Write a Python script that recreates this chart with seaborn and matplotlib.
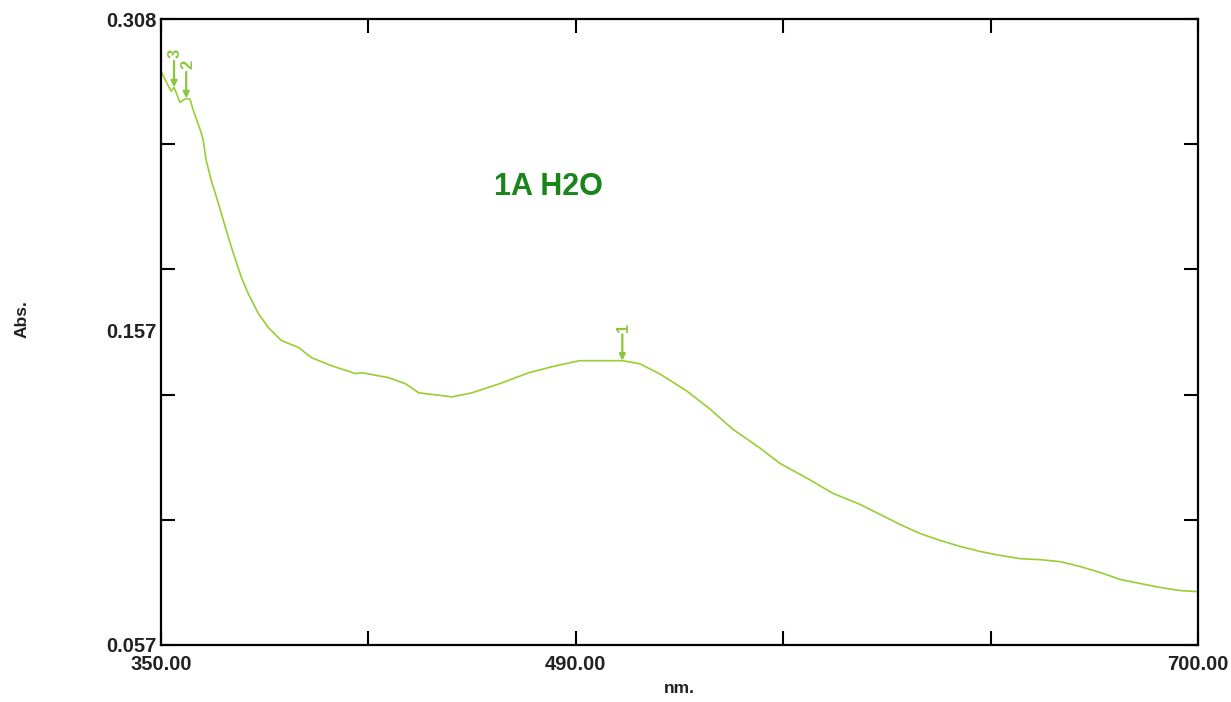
import matplotlib
matplotlib.use("Agg")
import matplotlib.pyplot as plt
import seaborn as sns
import pandas as pd

# ---- data ----
wavelength = [350.0, 353.4, 354.4, 356.4, 358.5, 359.8, 360.8, 363.2, 364.2, 365.2,
              366.9, 369.3, 371.7, 374.4, 377.1, 379.4, 382.8, 386.2, 390.6, 396.4,
              400.8, 407.5, 415.7, 417.7, 426.8, 432.6, 437.0, 442.7, 448.2, 454.9,
              464.1, 474.2, 482.0, 491.2, 497.9, 505.7, 511.5, 518.2, 527.4, 535.2,
              542.9, 552.1, 558.8, 568.0, 576.8, 585.9, 599.5, 606.2, 613.0, 619.8,
              626.5, 633.3, 640.1, 646.9, 653.6, 660.4, 667.2, 673.9, 680.7, 687.5,
              694.2, 700.0]
absorbance = [0.2871, 0.2790, 0.2806, 0.2746, 0.2762, 0.2758, 0.2717, 0.2637, 0.2597, 0.2516,
              0.2435, 0.2343, 0.2246, 0.2141, 0.2045, 0.1980, 0.1900, 0.1843, 0.1791, 0.1763,
              0.1722, 0.1690, 0.1658, 0.1662, 0.1642, 0.1617, 0.1581, 0.1573, 0.1565, 0.1581,
              0.1617, 0.1662, 0.1686, 0.1710, 0.1710, 0.1710, 0.1698, 0.1658, 0.1589, 0.1517,
              0.1436, 0.1360, 0.1299, 0.1239, 0.1178, 0.1134, 0.1053, 0.1017, 0.0989, 0.0965,
              0.0945, 0.0929, 0.0916, 0.0912, 0.0904, 0.0884, 0.0860, 0.0832, 0.0816, 0.0800,
              0.0788, 0.0784]

peak_labels = ["1", "2", "3"]
peak_wavelength = [505.7, 358.5, 354.4]
peak_absorbance = [0.1710, 0.2762, 0.2806]

x_min, x_max = 350.0, 700.0
y_min, y_max = 0.057, 0.308
x_ticks = [350, 420, 490, 560, 630, 700]
x_tick_labels = ["350.00", "", "490.00", "", "", "700.00"]
y_ticks = [0.057, 0.1072, 0.1574, 0.2076, 0.2578, 0.308]
y_tick_labels = ["0.057", "", "", "", "", "0.308"]
mid_y_label = "0.157"
title_text = "1A H2O"
x_label = "nm."
y_label = "Abs."

line_color = "#9ACD32"
arrow_color = "#8CC63F"
title_color = "#1A851A"
text_color = "#222222"

# ---- plotting ----
sns.set_style("ticks")
plt.rcParams["font.family"] = ["Liberation Sans", "DejaVu Sans"]

fig = plt.figure(figsize=(12.31, 7.02), dpi=100)
ax = fig.add_axes([0.1308, 0.0812, 0.8424, 0.8917])

df = pd.DataFrame({"nm": wavelength, "abs": absorbance})
sns.lineplot(data=df, x="nm", y="abs", ax=ax, color=line_color, linewidth=1.2,
             estimator=None, sort=False)

ax.set_xlim(x_min, x_max)
ax.set_ylim(y_min, y_max)
ax.set_xticks(x_ticks)
ax.set_xticklabels(x_tick_labels, fontsize=14.5, fontweight="bold", color=text_color)
ax.set_yticks(y_ticks)
ax.set_yticklabels(y_tick_labels, fontsize=14.5, fontweight="bold", color=text_color)
ax.tick_params(axis="both", direction="in", length=10, width=1.5, color="black",
               top=True, right=True)
ax.tick_params(axis="x", pad=7)
ax.tick_params(axis="y", pad=3)
for s in ax.spines.values():
    s.set_visible(True)
    s.set_color("black")
    s.set_linewidth(1.6)

ax.text(-0.004, 0.5, mid_y_label, transform=ax.transAxes, ha="right", va="center",
        fontsize=14.5, fontweight="bold", color=text_color)

ax.set_xlabel("")
ax.set_ylabel("")
fig.text(0.552, 0.019, x_label, ha="center", va="center", fontsize=12.5,
         fontweight="bold", color=text_color)
fig.text(0.018, 0.545, y_label, ha="center", va="center", rotation=90, fontsize=12.5,
         fontweight="bold", color=text_color)

ax.text(0.374, 0.732, title_text, ha="center", va="center", fontsize=22,
        fontweight="bold", color=title_color, transform=ax.transAxes)

for lab, px, py in zip(peak_labels, peak_wavelength, peak_absorbance):
    ax.annotate("", xy=(px, py), xytext=(0, 19), textcoords="offset points",
                arrowprops=dict(arrowstyle="-|>", color=arrow_color, lw=1.6,
                                mutation_scale=9, shrinkA=0, shrinkB=0))
    ax.annotate(lab, xy=(px, py), xytext=(1, 21), textcoords="offset points",
                rotation=90, ha="center", va="bottom", fontsize=12, color=arrow_color,
                fontweight="bold")

fig.savefig("out.png", dpi=100)
